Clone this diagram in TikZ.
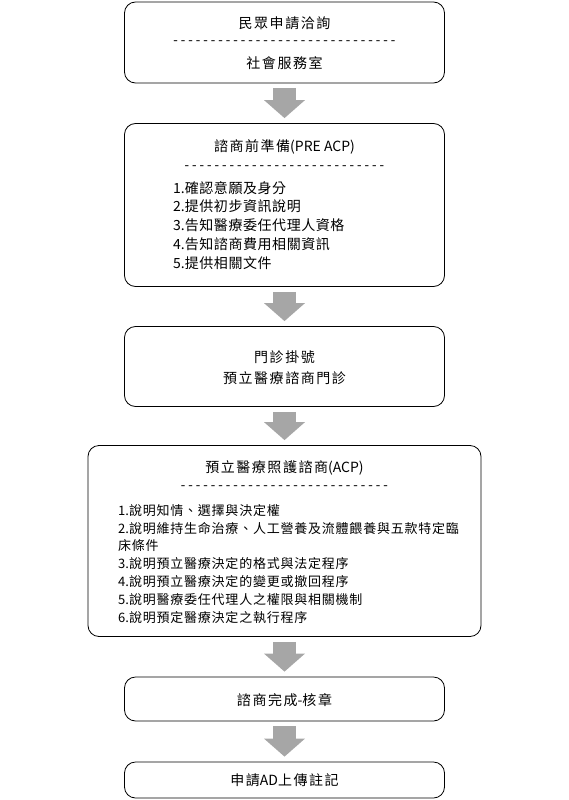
\documentclass[tikz,border=0pt]{standalone}
\usepackage{fontspec}
\setmainfont{Noto Sans CJK TC}
\newfontfamily\cjkwide[LetterSpace=11]{Noto Sans CJK TC}
\newfontfamily\cjkmid[LetterSpace=4]{Noto Sans CJK TC}
\newfontfamily\cjklist[LetterSpace=6]{Noto Sans CJK TC}
\newfontfamily\cjkplain{Noto Sans CJK TC}
\newfontfamily\dashfont{Liberation Mono}
\newcommand\itemno[1]{{\cjkplain #1.}}
\usepackage{tikz}
\usetikzlibrary{arrows.meta,positioning,calc}

\begin{document}
\begin{tikzpicture}[
x=1pt, y=1pt,
box/.style={
	draw, rounded corners=11pt, line width=0.8pt,
	minimum width=#1, inner sep=0pt
},
box/.default=320pt,
title/.style={font=\fontsize{14}{16}\selectfont\cjkwide, inner sep=0pt},
items/.style={font=\fontsize{14}{18.8}\selectfont\cjkmid, align=left, inner sep=0pt, anchor=north west},
rule/.style={font=\fontsize{12.5}{14}\selectfont\dashfont, inner sep=0pt},
flowarrow/.style={
	draw=black!35, line width=23pt,
	-{Triangle[width=41pt,length=18pt,line width=0pt]},
	shorten <=5pt, shorten >=5pt
}
]
\useasboundingbox (0,0) rectangle (568,-800);

% boxes
\node[box, minimum height=81pt] (b1) at (284.5,-42.5) {};
\node[box, minimum height=163pt] (b2) at (284.5,-205) {};
\node[box, minimum height=80pt] (b3) at (284.5,-366.5) {};
\node[box=393pt, minimum height=191pt] (b4) at (284.5,-541) {};
\node[box, minimum height=44pt] (b5) at (284.5,-699) {};
\node[box, minimum height=36pt] (b6) at (284.5,-780) {};

% box 1
\node[title] (t1) at (284.5,-23) {民眾申請洽詢};
\node[rule] (r1) at (284.5,-43) {------------------------------};
\node[title] (s1) at (284.5,-63) {社會服務室};

% box 2
\node[title] (t2) at (284.5,-147) {諮商前準備{\cjkplain(PRE ACP)}};
\node[rule] (r2) at (284.5,-168) {---------------------------};
\node[items] (l2) at (173,-181) {\itemno1確認意願及身分\\\itemno2提供初步資訊說明\\\itemno3告知醫療委任代理人資格\\\itemno4告知諮商費用相關資訊\\\itemno5提供相關文件};

% box 3
\node[title] (t3) at (284.5,-357) {門診掛號};
\node[title] (s3) at (284.5,-378) {預立醫療諮商門診};

% box 4
\node[title] (t4) at (284.5,-468) {預立醫療照護諮商{\cjkplain(ACP)}};
\node[rule] (r4) at (284.5,-488) {----------------------------};
\node[items, font=\fontsize{13}{17.8}\selectfont\cjklist] (l4) at (118,-504) {\itemno1說明知情、選擇與決定權\\\itemno2說明維持生命治療、人工營養及流體餵養與五款特定臨\\床條件\\\itemno3說明預立醫療決定的格式與法定程序\\\itemno4說明預立醫療決定的變更或撤回程序\\\itemno5說明醫療委任代理人之權限與相關機制\\\itemno6說明預定醫療決定之執行程序};

% box 5, 6
\node[title] (t5) at (284.5,-700) {諮商完成{\cjkplain-}核章};
\node[title] (t6) at (284.5,-780) {申請{\cjkplain AD}上傳註記};

% arrows
\foreach \a/\b in {b1/b2,b2/b3,b3/b4,b4/b5,b5/b6}
{
	\draw[flowarrow] (\a.south) -- (\b.north);
}
\end{tikzpicture}
\end{document}
